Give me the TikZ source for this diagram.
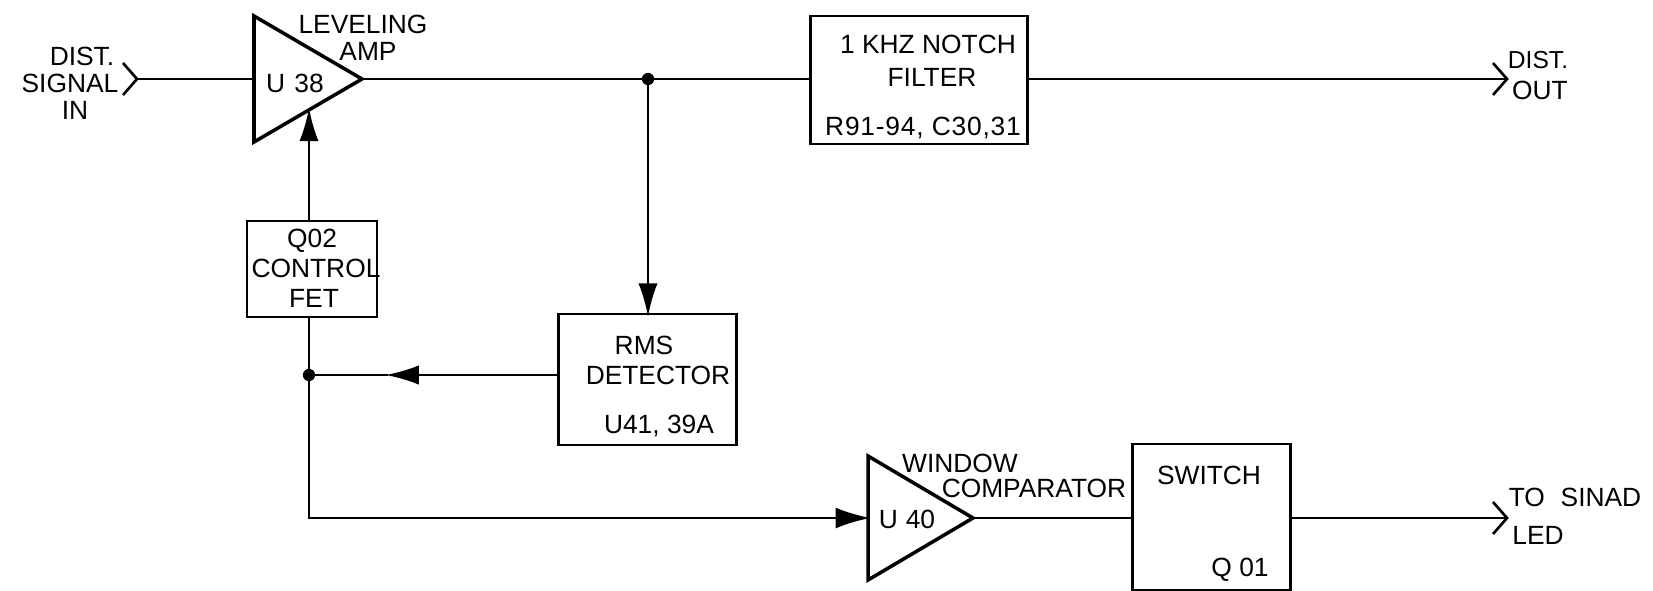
\documentclass[tikz,border=0pt]{standalone}
\usepackage{fontspec}
\setmainfont{Liberation Sans}
\usetikzlibrary{shapes.geometric, arrows.meta}
\tikzset{
    wire/.style={line width=1.5pt, black},
    bigarrow/.style={wire, shorten >=-1.5pt, -{Latex[length=19pt,width=11pt]}},
    stubarrow/.style={wire, shorten >=-1.5pt, -{Latex[length=20pt,width=12pt]}},
    blockbox/.style={draw, line width=1.7pt, rectangle, inner sep=0pt, outer sep=0pt},
    ampshape/.style={draw, line width=2pt, isosceles triangle, isosceles triangle stretches, inner sep=0pt, outer sep=0pt},
    junction/.style={circle, fill=black, inner sep=0pt, outer sep=0pt, minimum size=7pt},
    lbl/.style={font=\fontsize{15}{17}\selectfont, inner sep=0pt}
}

\begin{document}
\begin{tikzpicture}[x=0.02cm, y=-0.02cm]
    \useasboundingbox (0, 0) rectangle (1653, 591);

    % Amplifiers
    \node[ampshape, minimum width=126*0.02cm, minimum height=108*0.02cm, anchor=lower side] (u38) at (254, 79) {};
    \node[lbl] (u38text) at (295, 83) {U\hspace{0.35em}38};
    \node[lbl] (levelingtext) at (363, 24) {LEVELING};
    \node[lbl] (amptext) at (368, 51) {AMP};
    \node[ampshape, minimum width=124*0.02cm, minimum height=105*0.02cm, anchor=lower side] (u40) at (868, 518) {};
    \node[lbl] (u40text) at (907, 519) {U\hspace{0.3em}40};
    \node[lbl] (windowtext) at (960, 463) {WINDOW};
    \node[lbl] (comparatortext) at (1034, 488) {COMPARATOR};

    % Blocks
    \node[blockbox, minimum width=217*0.02cm, minimum height=128*0.02cm] (notch) at (918.5, 80) {};
    \node[lbl] (notchtext) at (928, 44) {1 KHZ NOTCH};
    \node[lbl] (filtertext) at (932, 77) {FILTER};
    \node[lbl, font=\fontsize{15}{17}\selectfont\addfontfeature{LetterSpace=3}] (notchparts) at (923, 128) {R91-94, C30,31};

    \node[blockbox, minimum width=130*0.02cm, minimum height=96*0.02cm] (ctl) at (312, 269) {};
    \node[lbl] (ctltext) at (312, 241) {Q02};
    \node[lbl] (controltext) at (316, 268) {CONTROL};
    \node[lbl] (fettext) at (314, 298) {FET};

    \node[blockbox, minimum width=178*0.02cm, minimum height=131*0.02cm] (rms) at (647, 379.5) {};
    \node[lbl] (rmstext) at (644, 345) {RMS};
    \node[lbl] (detectortext) at (658, 375) {DETECTOR};
    \node[lbl] (rmsparts) at (659, 426) {U41, 39A};

    \node[blockbox, minimum width=158*0.02cm, minimum height=146*0.02cm] (switch) at (1211, 517) {};
    \node[lbl] (switchtext) at (1209, 475) {SWITCH};
    \node[lbl] (switchparts) at (1240, 570) {Q 01};

    % Junctions
    \node[junction] (tap) at (648, 79) {};
    \node[junction] (junc) at (309, 375) {};

    % Terminals
    \coordinate (sigin) at (137, 79);
    \coordinate (distout) at (1507, 79);
    \coordinate (ledout) at (1507, 518);
    \coordinate (midtip) at (388, 375);
    \draw[wire] (sigin) ++(-14, -16) -- (sigin) -- ++(-14, 16);
    \draw[wire] (distout) ++(-14, -16) -- (distout) -- ++(-14, 16);
    \draw[wire] (ledout) ++(-14, -16) -- (ledout) -- ++(-14, 16);
    \node[lbl] (disttext) at (82, 56) {DIST.};
    \node[lbl] (signaltext) at (70, 83) {SIGNAL};
    \node[lbl] (intext) at (75, 110) {IN};
    \node[lbl, font=\fontsize{14}{16}\selectfont] (outtext) at (1538, 60) {DIST.};
    \node[lbl] (outtext2) at (1540, 90) {OUT};
    \node[lbl] (sinadtext) at (1575, 497) {TO\hspace{0.6em}SINAD};
    \node[lbl] (ledtext) at (1538, 535) {LED};

    % Connections
    \draw[wire] (sigin) -- (u38.lower side);
    \draw[wire] (u38.apex) -- (tap) -- (tap -| notch.west);
    \draw[wire] (notch.east |- distout) -- (distout);
    \draw[bigarrow] (tap) -- (tap |- rms.north);
    \draw[bigarrow] (rms.west |- junc) -- (midtip);
    \draw[wire] (midtip) -- (junc);
    \draw[wire] (junc) -- (junc |- ctl.south);
    \draw[bigarrow] (junc |- ctl.north) -- (junc |- u38.right side);
    \draw[stubarrow] (junc) |- (u40.lower side);
    \draw[wire] (u40.apex) -- (switch.west |- u40.apex);
    \draw[wire] (switch.east |- ledout) -- (ledout);
\end{tikzpicture}
\end{document}
